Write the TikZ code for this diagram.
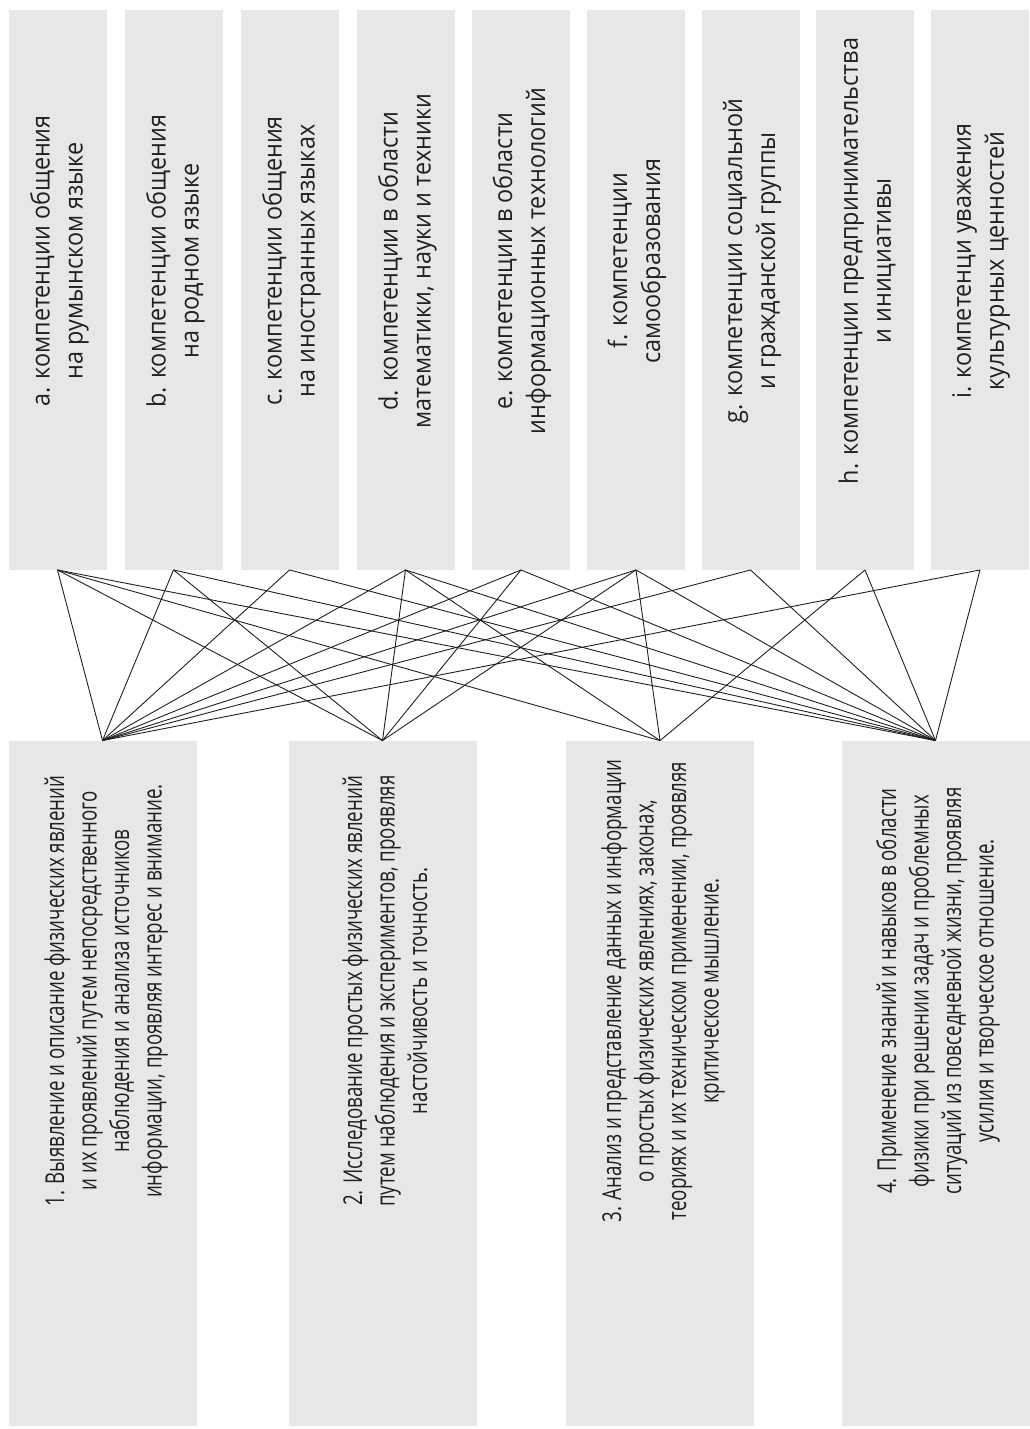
\documentclass[tikz,border=0pt]{standalone}
\usepackage{fontspec}
\setmainfont{Open Sans}
\newfontfamily\keyfont{Open Sans}[FakeStretch=0.92]
\newfontfamily\condfont{Open Sans}[FakeStretch=0.72]
\definecolor{boxgray}{HTML}{E6E7E8}
\definecolor{ink}{HTML}{231F20}

\begin{document}
\begin{tikzpicture}[x=1pt, y=-1pt, line width=0.9pt,
    topbox/.style={fill=boxgray, inner sep=0pt, minimum width=98pt, minimum height=559pt},
    lowbox/.style={fill=boxgray, inner sep=0pt, minimum width=188pt, minimum height=685pt},
    toptxt/.style={rotate=90, align=center, text=ink, inner sep=0pt,
      font=\keyfont\fontsize{25.4}{33}\selectfont},
    lowtxt/.style={rotate=90, align=center, text=ink, inner sep=0pt,
      font=\condfont\fontsize{26}{32.5}\selectfont},
    link/.style={draw=ink}]
    \useasboundingbox (0,0) rectangle (1029,1429);
    % key competences
    \node[topbox] (a) at (57.5,290) {};
    \node[topbox] (b) at (173.5,290) {};
    \node[topbox] (c) at (289.5,290) {};
    \node[topbox] (d) at (405.5,290) {};
    \node[topbox] (e) at (521,290) {};
    \node[topbox] (f) at (636,290) {};
    \node[topbox] (g) at (750.5,290) {};
    \node[topbox] (h) at (865,290) {};
    \node[topbox] (i) at (980,290) {};
    \node[toptxt] at (59.5,261) {a. компетенции общения\\на румынском языке};
    \node[toptxt] at (175.5,261) {b. компетенции общения\\на родном языке};
    \node[toptxt] at (291.5,261) {c. компетенции общения\\на иностранных языках};
    \node[toptxt] at (407.5,261) {d. компетенции в области\\математики, науки и техники};
    \node[toptxt] at (522,261) {e. компетенции в области\\информационных технологий};
    \node[toptxt] at (637,261) {f. компетенции\\самообразования};
    \node[toptxt] at (752,261) {g. компетенции социальной\\и гражданской группы};
    \node[toptxt] at (867,261) {h. компетенции предпринимательства\\и инициативы};
    \node[toptxt] at (981,261) {i. компетенци уважения\\культурных ценностей};
    % specific competences
    \node[lowbox] (p1) at (102.5,1083.5) {};
    \node[lowbox] (p2) at (382.5,1083.5) {};
    \node[lowbox] (p3) at (660,1083.5) {};
    \node[lowbox] (p4) at (935.5,1083.5) {};
    \node[lowtxt] at (106,991) {1. Выявление и описание физических явлений\\
      и их проявлений путем непосредственного\\наблюдения и анализа источников\\
      информации, проявляя интерес и внимание.};
    \node[lowtxt] at (385,991) {2. Исследование простых физических явлений\\
      путем наблюдения и экспериментов, проявляя\\настойчивость и точность.};
    \node[lowtxt] at (663,991) {3. Анализ и представление данных и информации\\
      о простых физических явлениях, законах,\\
      теориях и их техническом применении, проявляя\\критическое мышление.};
    \node[lowtxt] at (938,991) {4. Применение знаний и навыков в области\\
      физики при решении задач и проблемных\\
      ситуаций из повседневной жизни, проявляя\\усилия и творческое отношение.};
    % links
    \foreach \k in {a,b,c,d,e,f,g,i}
      \draw[link] (\k.south) -- (p1.north);
    \foreach \k in {a,b,d,e,f}
      \draw[link] (\k.south) -- (p2.north);
    \foreach \k in {a,d,f,h}
      \draw[link] (\k.south) -- (p3.north);
    \foreach \k in {a,b,c,d,e,f,g,h,i}
      \draw[link] (\k.south) -- (p4.north);
  \end{tikzpicture}
\end{document}
